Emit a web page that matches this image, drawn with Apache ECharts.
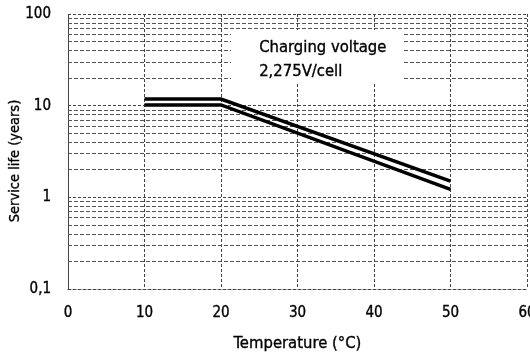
<!DOCTYPE html>
<html>
<head>
<meta charset="utf-8">
<script src="https://cdn.jsdelivr.net/npm/echarts@6/dist/echarts.min.js"></script>
<style>
    html, body { margin: 0; padding: 0; background: #fff; }
    #life_chart { width: 530px; height: 356px; }
</style>
</head>
<body>
<div id="life_chart"></div>
<script>
    /* 사용 수명 vs 온도 */
    var upperLine = [[10, 11.8], [20, 11.8], [50, 1.5]];
    var lowerLine = [[10, 10.2], [20, 10.2], [50, 1.22]];
    var xTicks = [0, 10, 20, 30, 40, 50, 60];
    var yTicks = [0.1, 1, 10, 100];
    var minorGrid = [0.2, 0.3, 0.4, 0.5, 0.6, 0.7, 0.8, 0.9,
                     2, 3, 4, 5, 6, 7, 8, 9,
                     20, 30, 40, 50, 60, 70, 80, 90];
    var noteLines = ['Charging voltage', '2,275V/cell'];
    var yName = 'Service life (years)';
    var xName = 'Temperature (°C)';

    var fontNm = 'DejaVu Sans Condensed';
    var gridLine = { color: '#444', width: 1, type: [3, 2] };
    var txtStyle = { color: '#000', fontFamily: fontNm, textBorderColor: '#000', textBorderWidth: 0.35 };

    var life_chart = document.getElementById('life_chart');
    var life_myChart = echarts.init(life_chart);

    option = {
        animation: false,
        backgroundColor: '#fff',
        grid: {
            left: 68,
            right: 3,
            top: 14,
            bottom: 67,
            containLabel: false,
            outerBoundsMode: 'none'
        },
        xAxis: {
            type: 'value',
            min: xTicks[0],
            max: xTicks[xTicks.length - 1],
            interval: 10,
            name: xName,
            nameLocation: 'middle',
            nameGap: 46,
            nameTextStyle: Object.assign({ fontSize: 16.5 }, txtStyle),
            axisLine: { show: true, lineStyle: gridLine },
            axisTick: { show: false },
            splitLine: { show: true, lineStyle: gridLine },
            axisLabel: Object.assign({ fontSize: 15, margin: 17 }, txtStyle)
        },
        yAxis: {
            type: 'log',
            logBase: 10,
            min: yTicks[0],
            max: yTicks[yTicks.length - 1],
            axisLine: { show: true, lineStyle: gridLine },
            axisTick: { show: false },
            splitLine: { show: true, lineStyle: gridLine },
            axisLabel: Object.assign({
                fontSize: 15,
                margin: 17,
                formatter: function (v) {
                    return String(v).replace('.', ',');
                }
            }, txtStyle)
        },
        graphic: [
            {
                type: 'text',
                x: 15,
                y: 161,
                rotation: Math.PI / 2,
                style: {
                    text: yName,
                    fill: '#000',
                    stroke: '#000',
                    lineWidth: 0.35,
                    font: '14.5px "' + fontNm + '"',
                    align: 'center',
                    verticalAlign: 'middle'
                }
            },
            {
                type: 'rect',
                left: 231,
                top: 30,
                shape: { width: 172, height: 53 },
                style: { fill: '#fff' },
                z: 50
            },
            {
                type: 'text',
                left: 259,
                top: 36,
                style: {
                    text: noteLines.join('\n'),
                    fill: '#000',
                    stroke: '#000',
                    lineWidth: 0.35,
                    font: '16.5px "' + fontNm + '"',
                    lineHeight: 24
                },
                z: 51
            }
        ],
        series: [
            {
                /* 보조 격자선 */
                type: 'line',
                data: [],
                silent: true,
                markLine: {
                    silent: true,
                    z: 1,
                    symbol: 'none',
                    label: { show: false },
                    lineStyle: { color: '#555', width: 1, type: [4, 2] },
                    data: minorGrid.map(function (v) { return { yAxis: v }; })
                }
            },
            {
                name: 'upper',
                type: 'line',
                data: upperLine,
                symbol: 'none',
                z: 10,
                lineStyle: { color: '#000', width: 3.5, cap: 'butt', join: 'miter' }
            },
            {
                name: 'lower',
                type: 'line',
                data: lowerLine,
                symbol: 'none',
                z: 10,
                lineStyle: { color: '#000', width: 3.5, cap: 'butt', join: 'miter' }
            }
        ]
    };

    option && life_myChart.setOption(option);
</script>
</body>
</html>
